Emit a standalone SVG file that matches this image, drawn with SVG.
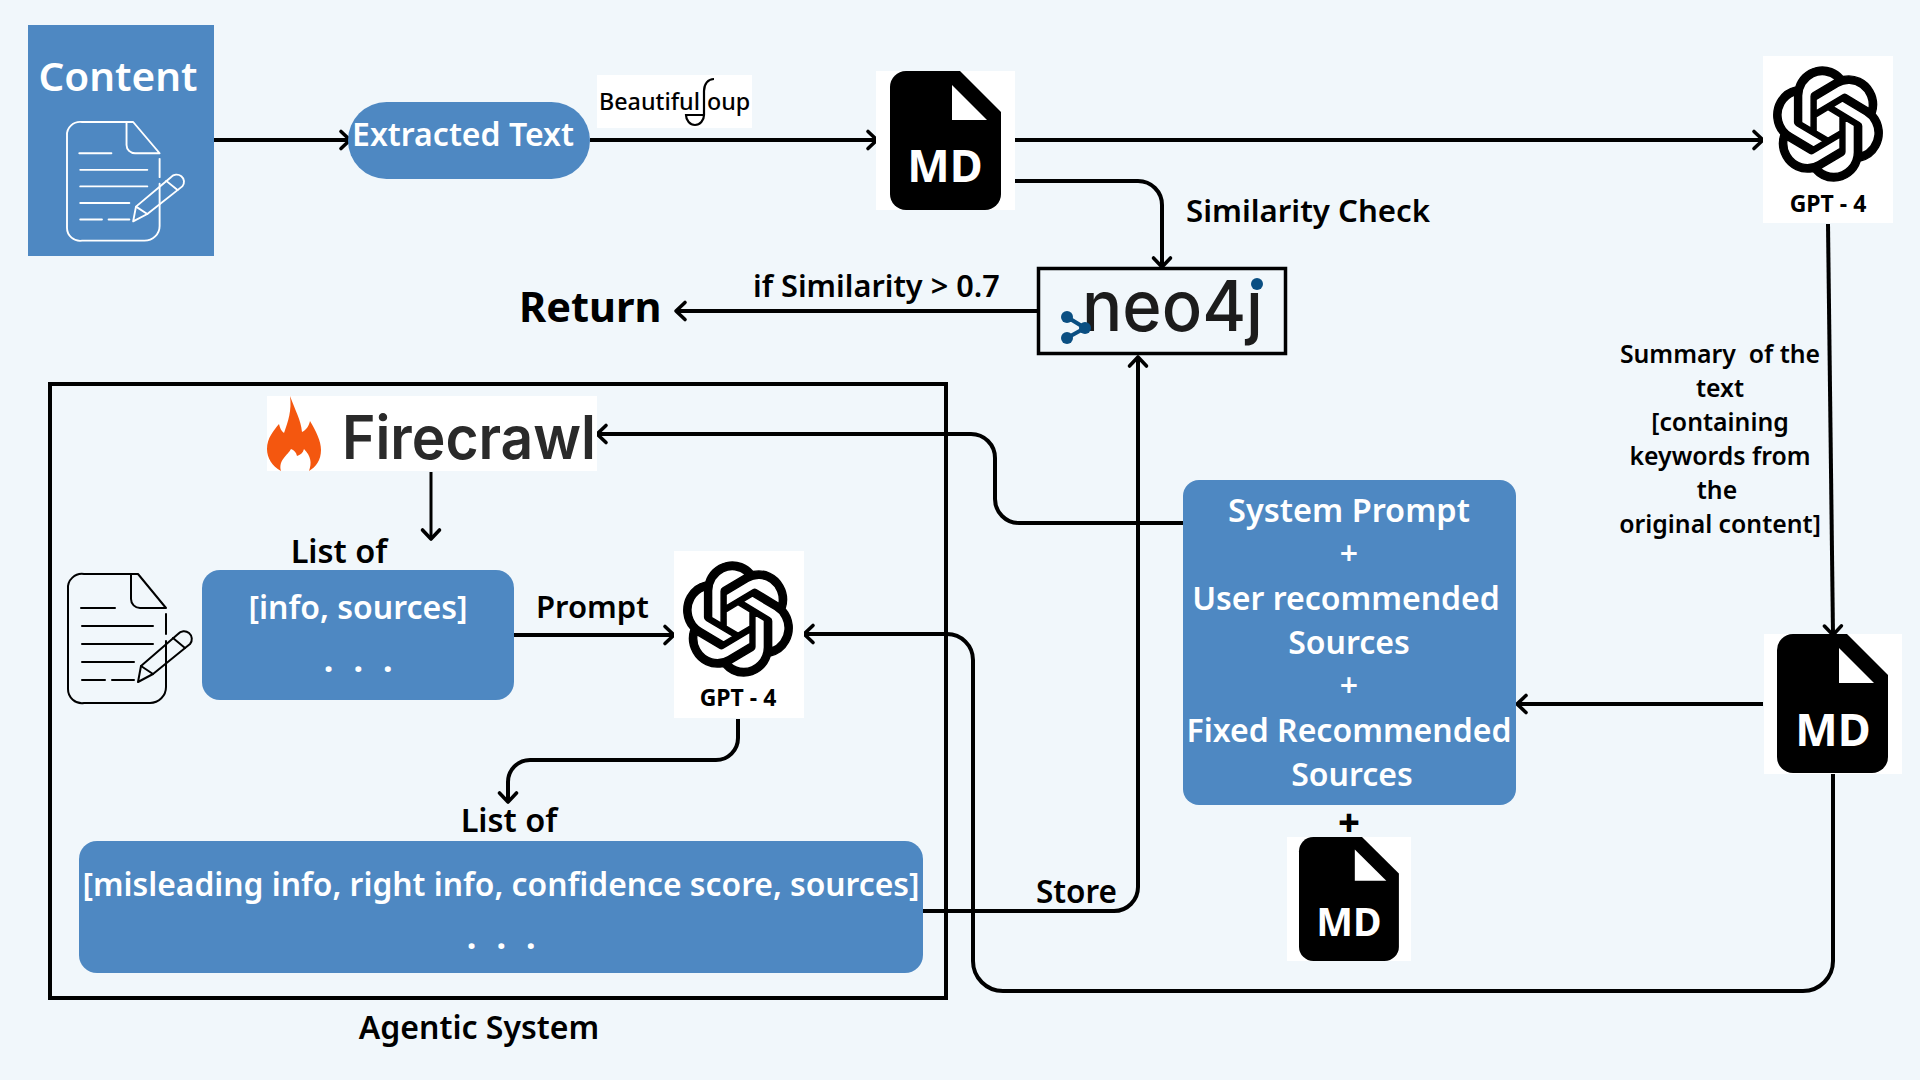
<svg xmlns="http://www.w3.org/2000/svg" width="1920" height="1080" viewBox="0 0 1920 1080">
<style>
text{font-family:"Noto Sans","Open Sans","Liberation Sans",sans-serif;font-weight:600;fill:#000}
.w{fill:#fff}.m{text-anchor:middle}
.blue{fill:#4e88c2}
.wb{fill:#fff}
.c{fill:none;stroke:#000;stroke-width:4;stroke-linejoin:round}
.a{marker-end:url(#ah)}
.l31{font-size:31px}
.l32{font-size:32.5px}
.sb{font-size:32px;fill:#fff;text-anchor:middle}
.sm{font-size:24.8px;text-anchor:middle;white-space:pre}
.gpt{font-size:23px;font-weight:700;text-anchor:middle}
.md{font-weight:700;fill:#fff;text-anchor:middle}
.dots{font-size:34px;font-weight:700;fill:#fff;text-anchor:middle;letter-spacing:5.6px}
</style>
<defs>
<marker id="ah" markerUnits="userSpaceOnUse" markerWidth="24" markerHeight="24" refX="13" refY="12" orient="auto" overflow="visible">
<path d="M4 3.5 L13 12 L4 20.5" fill="none" stroke="#000" stroke-width="3.6" stroke-linecap="round" stroke-linejoin="round"/>
</marker>
<symbol id="knot" viewBox="0 0 24 24" preserveAspectRatio="none" overflow="visible">
<path d="M22.2819 9.8211a5.9847 5.9847 0 0 0-.5157-4.9108 6.0462 6.0462 0 0 0-6.5098-2.9A6.0651 6.0651 0 0 0 4.9807 4.1818a5.9847 5.9847 0 0 0-3.9977 2.9 6.0462 6.0462 0 0 0 .7427 7.0966 5.98 5.98 0 0 0 .511 4.9107 6.051 6.051 0 0 0 6.5146 2.9001A5.9847 5.9847 0 0 0 13.2599 24a6.0557 6.0557 0 0 0 5.7718-4.2058 5.9894 5.9894 0 0 0 3.9977-2.9001 6.0557 6.0557 0 0 0-.7475-7.0729zm-9.022 12.6081a4.4755 4.4755 0 0 1-2.8764-1.0408l.1419-.0804 4.7783-2.7582a.7948.7948 0 0 0 .3927-.6813v-6.7369l2.02 1.1686a.071.071 0 0 1 .038.052v5.5826a4.504 4.504 0 0 1-4.4945 4.4944zm-9.6607-4.1254a4.4708 4.4708 0 0 1-.5346-3.0137l.142.0852 4.783 2.7582a.7712.7712 0 0 0 .7806 0l5.8428-3.3685v2.3324a.0804.0804 0 0 1-.0332.0615L9.74 19.9502a4.4992 4.4992 0 0 1-6.1408-1.6464zM2.3408 7.8956a4.485 4.485 0 0 1 2.3655-1.9728V11.6a.7664.7664 0 0 0 .3879.6765l5.8144 3.3543-2.0201 1.1685a.0757.0757 0 0 1-.071 0l-4.8303-2.7865A4.504 4.504 0 0 1 2.3408 7.872zm16.5963 3.8558L13.1038 8.364 15.1192 7.2a.0757.0757 0 0 1 .071 0l4.8303 2.7913a4.4944 4.4944 0 0 1-.6765 8.1042v-5.6772a.79.79 0 0 0-.407-.667zm2.0107-3.0231l-.142-.0852-4.7735-2.7818a.7759.7759 0 0 0-.7854 0L9.409 9.2297V6.8974a.0662.0662 0 0 1 .0284-.0615l4.8303-2.7866a4.4992 4.4992 0 0 1 6.6802 4.66zM8.3065 12.863l-2.02-1.1638a.0804.0804 0 0 1-.038-.0567V6.0742a4.4992 4.4992 0 0 1 7.3757-3.4537l-.142.0805L8.704 5.459a.7948.7948 0 0 0-.3927.6813zm1.0976-2.3654l2.602-1.4998 2.6069 1.4998v2.9994l-2.5974 1.4997-2.6067-1.4997Z" fill="#000" stroke="#000" stroke-width=".3"/>
</symbol>
<g id="mdshape">
<path d="M16 0H70L111 41V123a16 16 0 0 1-16 16H16a16 16 0 0 1-16-16V16A16 16 0 0 1 16 0Z" fill="#000"/>
<path d="M62 14L97 49H62Z" fill="#fff"/>
</g>
<g id="doc" fill="none" stroke-linecap="round" stroke-linejoin="round">
<path d="M63 0H16A14 14 0 0 0 0 15V115A14 14 0 0 0 16 129H82A16 16 0 0 0 98 113V67"/>
<path d="M63 0H70L98 34H72A9 9 0 0 1 63 25Z"/>
<path d="M98 40V60"/>
<path d="M13 34H47M14 52H85M14 70H85M14 88H66M14 106H37M44 106H66"/>
<path d="M70 108L73 92L110 60A6 6 0 0 1 122 70L85 100Z"/>
<path d="M73 92L85 100M105 64L117 74"/>
</g>
</defs>
<rect width="1920" height="1080" fill="#f1f7fb"/>

<g id="connectors">
<path class="c a" d="M214 140H350"/>
<path class="c a" d="M590 140H877"/>
<path class="c a" d="M1015 140H1763"/>
<path class="c a" d="M1015 181H1138A24 24 0 0 1 1162 205V267"/>
<path class="c a" d="M1037 311H676"/>
<path class="c a" d="M923 911H1114A24 24 0 0 0 1138 887V357"/>
<path class="c a" d="M1183 523H1019A24 24 0 0 1 995 499V458A24 24 0 0 0 971 434H597"/>
<path class="c a" style="stroke-width:3" d="M431 472V539"/>
<path class="c a" d="M514 635H674"/>
<path class="c a" d="M738 719V738A22 22 0 0 1 716 760H530A22 22 0 0 0 508 782V802"/>
<path class="c a" d="M1833 774V961A30 30 0 0 1 1803 991H1003A30 30 0 0 1 973 961V660A26 26 0 0 0 947 634H804"/>
<path class="c a" d="M1763 704H1517"/>
<path class="c a" d="M1828 224L1833 635"/>
</g>

<g id="content">
<rect class="blue" x="28" y="25" width="186" height="231"/>
<text class="w m" x="118" y="91" font-size="40.500">Content</text>
<use href="#doc" stroke="#fff" stroke-width="2" transform="translate(67 122) scale(.945 .92)"/>
</g>
<g id="extracted-text">
<rect class="blue" x="348" y="102" width="242" height="77" rx="38.5"/>
<text class="w m" x="463" y="145.500" font-size="32">Extracted Text</text>
</g>
<g id="beautifulsoup">
<rect class="wb" x="597" y="75" width="155" height="53"/>
<text x="599" y="110" font-size="23.300" style="font-weight:500">Beautiful</text>
<path d="M686 115H704A9 10 0 0 1 686 115ZM704 115V91C704 84 708 79 714 79" fill="none" stroke="#000" stroke-width="2.200"/>
<text x="707" y="110" font-size="23.300" style="font-weight:500">oup</text>
</g>
<g id="md-top">
<rect class="wb" x="876" y="71" width="139" height="139"/>
<use href="#mdshape" x="890" y="71"/>
<text class="md" x="945" y="182" font-size="45">MD</text>
</g>
<g id="gpt-top">
<rect class="wb" x="1763" y="56" width="130" height="167"/>
<use href="#knot" x="1773" y="67" width="110" height="114"/>
<text class="gpt" x="1828" y="212">GPT - 4</text>
</g>
<g id="similarity-label"><text x="1186" y="222" font-size="31.2">Similarity Check</text></g>
<g id="if-label"><text x="753" y="297" font-size="30.7">if Similarity &gt; 0.7</text></g>
<g id="return"><text x="519" y="322" font-size="41.500" style="font-weight:700">Return</text></g>
<g id="neo4j">
<rect x="1038.500" y="268.500" width="247" height="85" fill="#f1f7fb" stroke="#000" stroke-width="3.500"/>
<text x="1082" y="331" font-size="70" textLength="181" lengthAdjust="spacingAndGlyphs" style="font-family:'Inter','Roboto',sans-serif;font-weight:500;fill:#1c1c1c">neo4j</text>
<rect x="1246" y="272" width="22" height="19" fill="#f1f7fb"/>
<circle cx="1257" cy="284" r="6" fill="#0b4f82"/>
<path d="M1067 317L1085 328L1067 338" fill="none" stroke="#0b4f82" stroke-width="4"/>
<circle cx="1067" cy="317" r="6" fill="#0b4f82"/>
<circle cx="1085" cy="328" r="6" fill="#0b4f82"/>
<circle cx="1067" cy="338" r="6" fill="#0b4f82"/>
</g>
<g id="summary-label">
<text class="sm" x="1720" y="363">Summary  of the</text>
<text class="sm" x="1720" y="397">text</text>
<text class="sm" x="1720" y="431">[containing</text>
<text class="sm" x="1720" y="465">keywords from</text>
<text class="sm" x="1717" y="499">the</text>
<text class="sm" x="1720" y="533">original content]</text>
</g>
<g id="agentic-system">
<rect x="50" y="384" width="896" height="614" fill="none" stroke="#000" stroke-width="4"/>
<text class="m" x="479" y="1039" font-size="32">Agentic System</text>
</g>
<g id="firecrawl">
<rect class="wb" x="267" y="396" width="330" height="75"/>
<path d="M290 396C295 410 301 420 302 432C306 430 309 426 310 421C316 431 321 441 321 450C321 460 316 467 309 471C312 463 311 456 304 449C303 453 300 455 297 456C296 452 294 450 291 449C288 455 278 460 281 471C272 466 267 458 267 449C267 438 274 430 279 424C280 428 281 431 284 433C288 422 292 410 290 396Z" fill="#f4570f"/>
<text x="342" y="459" font-size="60" textLength="254" lengthAdjust="spacingAndGlyphs" style="font-family:'Inter','Roboto',sans-serif;font-weight:600;fill:#2a2a2a">Firecrawl</text>
</g>
<g id="list-of-1"><text class="l32 m" x="339" y="563">List of</text></g>
<g id="doc-icon"><use href="#doc" stroke="#000" stroke-width="2" transform="translate(68 574)"/></g>
<g id="info-sources">
<rect class="blue" x="202" y="570" width="312" height="130" rx="18"/>
<text class="w m" x="358" y="619" font-size="32">[info, sources]</text>
<text class="dots" x="361" y="672">. . .</text>
</g>
<g id="prompt-label"><text class="l31" x="536" y="618">Prompt</text></g>
<g id="gpt-agent">
<rect class="wb" x="674" y="551" width="130" height="167"/>
<use href="#knot" x="683" y="562" width="110" height="114"/>
<text class="gpt" x="738" y="706">GPT - 4</text>
</g>
<g id="list-of-2"><text class="l32 m" x="509" y="832">List of</text></g>
<g id="misleading">
<rect class="blue" x="79" y="841" width="844" height="132" rx="18"/>
<text class="w m" x="501" y="896" font-size="31.800">[misleading info, right info, confidence score, sources]</text>
<text class="dots" x="504" y="949">. . .</text>
</g>
<g id="store-label"><text class="l31" x="1036" y="903" style="font-size:31.5px">Store</text></g>
<g id="system-prompt">
<rect class="blue" x="1183" y="480" width="333" height="325" rx="16"/>
<text class="sb" x="1349" y="522" style="font-size:32.5px">System Prompt</text>
<text class="sb" x="1349" y="565">+</text>
<text class="sb" x="1346" y="610">User recommended</text>
<text class="sb" x="1349" y="654">Sources</text>
<text class="sb" x="1349" y="697">+</text>
<text class="sb" x="1349" y="742">Fixed Recommended</text>
<text class="sb" x="1352" y="786">Sources</text>
</g>
<g id="plus"><text class="m" x="1349" y="836" font-size="38" style="font-weight:800">+</text></g>
<g id="md-system">
<rect class="wb" x="1287" y="837" width="124" height="124"/>
<use href="#mdshape" transform="translate(1299 837) scale(.9 .892)"/>
<text class="md" x="1349" y="936" font-size="39">MD</text>
</g>
<g id="md-right">
<rect class="wb" x="1764" y="634" width="138" height="140"/>
<use href="#mdshape" x="1777" y="634"/>
<text class="md" x="1833" y="746" font-size="45">MD</text>
</g>
</svg>
